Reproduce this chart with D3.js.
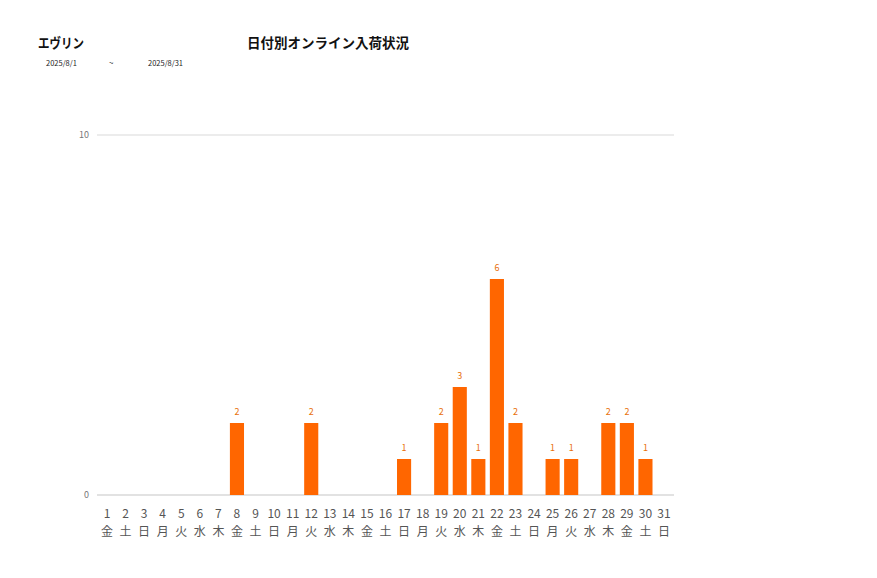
<!DOCTYPE html>
<html>
<head>
<meta charset="utf-8">
<script src="https://cdn.jsdelivr.net/npm/d3@7"></script>
<style>
  body { margin: 0; background: #fff; }
  svg { font-family: "Noto Sans CJK JP", "Noto Sans", sans-serif; }
</style>
</head>
<body>
<div id="chart"></div>
<script>
var days = d3.range(1, 32).map(String);
var weekdays = ["金","土","日","月","火","水","木","金","土","日","月","火","水","木","金","土","日","月","火","水","木","金","土","日","月","火","水","木","金","土","日"];
var counts = [0,0,0,0,0,0,0,2,0,0,0,2,0,0,0,0,1,0,2,3,1,6,2,0,1,1,0,2,2,1,0];
var yTicks = [0, 10];

var width = 877, height = 578;
var svg = d3.select("#chart").append("svg")
  .attr("width", width)
  .attr("height", height);

var x = d3.scaleBand().domain(days).range([97.7, 673.3]).paddingInner(0.24).paddingOuter(0.12);
var y = d3.scaleLinear().domain([0, 10]).range([495, 135]);

// titles
svg.append("text").attr("x", 38).attr("y", 48)
  .attr("font-size", 13.5).attr("font-weight", "bold").attr("fill", "#111")
  .attr("textLength", 46).attr("lengthAdjust", "spacingAndGlyphs")
  .text("エヴリン");
svg.append("text").attr("x", 328).attr("y", 48).attr("text-anchor", "middle")
  .attr("font-size", 13.5).attr("font-weight", "bold").attr("fill", "#111")
  .text("日付別オンライン入荷状況");
svg.append("text").attr("x", 46).attr("y", 66).attr("font-size", 7.5).attr("fill", "#222").text("2025/8/1");
svg.append("text").attr("x", 109).attr("y", 66).attr("font-size", 8).attr("fill", "#222").text("~");
svg.append("text").attr("x", 148).attr("y", 66).attr("font-size", 7.5).attr("fill", "#222").text("2025/8/31");

// grid
svg.selectAll(".grid").data(yTicks).enter().append("line")
  .attr("x1", 97).attr("x2", 674)
  .attr("y1", function(d) { return y(d); })
  .attr("y2", function(d) { return y(d); })
  .attr("stroke", function(d) { return d === 0 ? "#d8d8d8" : "#e6e6e6"; })
  .attr("stroke-width", 1.5);

svg.selectAll(".ytick").data(yTicks).enter().append("text")
  .attr("x", 89).attr("y", function(d) { return y(d) + 3; })
  .attr("text-anchor", "end").attr("font-size", 9).attr("fill", "#777")
  .text(function(d) { return d; });

// bars
var data = days.map(function(d, i) { return { day: d, wd: weekdays[i], v: counts[i] }; });
svg.selectAll(".bar").data(data.filter(function(d) { return d.v > 0; })).enter().append("rect")
  .attr("x", function(d) { return x(d.day); })
  .attr("y", function(d) { return y(d.v); })
  .attr("width", x.bandwidth())
  .attr("height", function(d) { return y(0) - y(d.v); })
  .attr("fill", "#ff6600");

svg.selectAll(".val").data(data.filter(function(d) { return d.v > 0; })).enter().append("text")
  .attr("x", function(d) { return x(d.day) + x.bandwidth() / 2; })
  .attr("y", function(d) { return y(d.v) - 8; })
  .attr("text-anchor", "middle").attr("font-size", 9).attr("fill", "#e8700a")
  .text(function(d) { return d.v; });

// x labels
svg.selectAll(".xday").data(data).enter().append("text")
  .attr("x", function(d) { return x(d.day) + x.bandwidth() / 2; })
  .attr("y", 518).attr("text-anchor", "middle").attr("font-size", 12).attr("fill", "#555")
  .text(function(d) { return d.day; });
svg.selectAll(".xwd").data(data).enter().append("text")
  .attr("x", function(d) { return x(d.day) + x.bandwidth() / 2; })
  .attr("y", 536).attr("text-anchor", "middle").attr("font-size", 12).attr("fill", "#555")
  .text(function(d) { return d.wd; });
</script>
</body>
</html>
